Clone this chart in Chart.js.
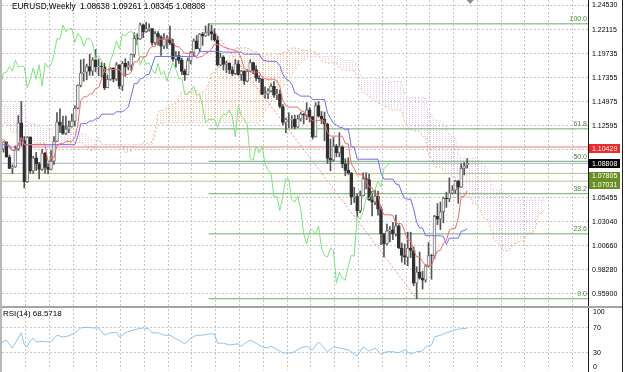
<!DOCTYPE html>
<html>
<head>
<meta charset="utf-8">
<script src="https://cdn.jsdelivr.net/npm/chart.js@4.4.1/dist/chart.umd.min.js"></script>
<style>
  html, body { margin: 0; padding: 0; background: #fff; }
  #wrap { position: relative; width: 625px; height: 372px; overflow: hidden; background: #fff; }
  canvas { position: absolute; left: 0; }
  #main { top: 0; }
  #rsi { top: 308px; }
  .edge { position: absolute; }
</style>
</head>
<body>
<div id="wrap">
  <canvas id="main" width="625" height="306"></canvas>
  <canvas id="rsi" width="625" height="64"></canvas>
  <div class="edge" style="left:0;top:306px;width:622px;height:2px;background:#a4a4a4"></div>
  <div class="edge" style="left:0;top:0;width:2px;height:372px;background:#b8b8b8"></div>
  <div class="edge" style="left:622px;top:0;width:1px;height:372px;background:#202020"></div>
</div>
<script>
// weekly EURUSD bars, index 0 = first visible week
const opens = [
1.1093,1.1025,1.1093,1.0944,1.0830,1.0845,1.1025,1.1283,1.1106,1.0698,
1.1141,1.0805,1.0936,1.0876,1.0821,1.0982,1.0841,1.0819,1.0901,1.1098,
1.1290,1.1256,1.1178,1.1220,1.1246,1.1300,1.1428,1.1655,1.1778,1.1786,
1.1842,1.1795,1.1905,1.1838,1.1845,1.1840,1.1631,1.1715,1.1826,1.1717,
1.1860,1.1647,1.1875,1.1835,1.1856,1.1962,1.2121,1.2113,1.2255,1.2187,
1.2216,1.2220,1.2080,1.2170,1.2136,1.2045,1.2118,1.2120,1.2075,1.1915,
1.1950,1.1903,1.1794,1.1762,1.1900,1.1983,1.2097,1.2020,1.2165,1.2146,
1.2180,1.2190,1.2167,1.2106,1.1858,1.1936,1.1864,1.1875,1.1810,1.1770,
1.1870,1.1760,1.1796,1.1696,1.1795,1.1880,1.1812,1.1726,1.1719,1.1566,
1.1570,1.1600,1.1645,1.1558,1.1567,1.1445,1.1287,1.1317,1.1317,1.1318,
1.1240,1.1322,1.1370,1.1360,1.1412,1.1345,1.1144,1.1455,1.1350,1.1320,
1.1270,1.0930,1.0912,1.1050,1.0985,1.1045,1.0875,1.0810,1.0785,1.0545,
1.0550,1.0410,1.0560,1.0730,1.0720,1.0518,1.0495,1.0555,1.0425,1.0180,
1.0080,1.0210,1.0220,1.0180,1.0260,1.0040,0.9965,0.9950,1.0040,1.0015,
0.9690,0.9800,0.9740,0.9720,0.9860,0.9965,0.9960,1.0355,1.0325,1.0400,
1.0535,1.0530,1.0585,1.0615,1.0705,1.0645,1.0830,1.08638];

const highs = [
1.1100,1.1096,1.1095,1.0964,1.0865,1.1054,1.1355,1.1496,1.1147,1.1147,
1.1145,1.0950,1.0990,1.0890,1.1019,1.0990,1.0875,1.1008,1.1146,1.1384,
1.1422,1.1350,1.1349,1.1303,1.1371,1.1452,1.1659,1.1909,1.1916,1.1866,
1.1966,1.1930,1.2011,1.1917,1.1882,1.1873,1.1755,1.1831,1.1832,1.1881,
1.1861,1.1891,1.1920,1.1893,1.1966,1.2177,1.2167,1.2273,1.2265,1.2280,
1.2265,1.2222,1.2190,1.2190,1.2150,1.2169,1.2150,1.2243,1.2114,1.1990,
1.1990,1.1925,1.1815,1.1927,1.1994,1.2117,1.2150,1.2170,1.2181,1.2245,
1.2266,1.2254,1.2218,1.2145,1.1975,1.1950,1.1895,1.1880,1.1840,1.1909,
1.1900,1.1805,1.1800,1.1810,1.1909,1.1885,1.1850,1.1751,1.1720,1.1640,
1.1624,1.1669,1.1692,1.1616,1.1610,1.1464,1.1330,1.1383,1.1355,1.1360,
1.1360,1.1386,1.1376,1.1482,1.1435,1.1346,1.1483,1.1495,1.1395,1.1390,
1.1280,1.1121,1.1137,1.1070,1.1185,1.1055,1.0926,1.0937,1.0790,1.0642,
1.0578,1.0607,1.0787,1.0786,1.0774,1.0602,1.0615,1.0605,1.0450,1.0185,
1.0278,1.0253,1.0294,1.0368,1.0272,1.0090,1.0080,1.0198,1.0197,1.0050,
0.9854,0.9999,0.9810,0.9875,1.0094,0.9976,1.0365,1.0481,1.0497,1.0545,
1.0595,1.0737,1.0659,1.0713,1.0713,1.0875,1.0887,1.09261];

const lows = [
1.1018,1.0992,1.0940,1.0827,1.0778,1.0840,1.1010,1.1055,1.0636,1.0690,
1.0780,1.0780,1.0810,1.0727,1.0810,1.0782,1.0775,1.0815,1.0870,1.1095,
1.1185,1.1168,1.1168,1.1185,1.1240,1.1250,1.1420,1.1640,1.1696,1.1710,
1.1755,1.1753,1.1789,1.1751,1.1737,1.1612,1.1630,1.1705,1.1689,1.1703,
1.1622,1.1603,1.1745,1.1810,1.1800,1.1935,1.2058,1.2110,1.2130,1.2180,
1.2192,1.2054,1.2060,1.2055,1.1952,1.2020,1.2023,1.2060,1.1893,1.1835,
1.1874,1.1762,1.1704,1.1760,1.1868,1.1950,1.2020,1.1986,1.2052,1.2140,
1.2150,1.2104,1.2093,1.1847,1.1848,1.1807,1.1782,1.1772,1.1752,1.1760,
1.1755,1.1705,1.1664,1.1690,1.1790,1.1770,1.1700,1.1683,1.1563,1.1529,
1.1522,1.1590,1.1535,1.1513,1.1432,1.1263,1.1186,1.1235,1.1228,1.1222,
1.1234,1.1300,1.1272,1.1314,1.1290,1.1121,1.1140,1.1340,1.1273,1.1106,
1.0880,1.0806,1.0901,1.0945,1.0945,1.0837,1.0757,1.0770,1.0471,1.0492,
1.0349,1.0390,1.0558,1.0627,1.0512,1.0359,1.0470,1.0365,1.0072,0.9952,
1.0070,1.0100,1.0123,1.0160,1.0033,0.9900,0.9877,0.9864,0.9945,0.9665,
0.9536,0.9730,0.9632,0.9700,0.9850,0.9730,0.9935,1.0272,1.0223,1.0290,
1.0443,1.0500,1.0575,1.0580,1.0483,1.0640,1.0766,1.08345];

const closes = [
1.1025,1.1093,1.0944,1.0830,1.0845,1.1025,1.1283,1.1106,1.0698,1.1141,
1.0805,1.0936,1.0876,1.0821,1.0982,1.0841,1.0819,1.0901,1.1098,1.1290,
1.1256,1.1178,1.1220,1.1246,1.1300,1.1428,1.1655,1.1778,1.1786,1.1842,
1.1795,1.1905,1.1838,1.1845,1.1840,1.1631,1.1715,1.1826,1.1717,1.1860,
1.1647,1.1875,1.1835,1.1856,1.1962,1.2121,1.2113,1.2255,1.2187,1.2216,
1.2220,1.2080,1.2170,1.2136,1.2045,1.2118,1.2120,1.2075,1.1915,1.1950,
1.1903,1.1794,1.1762,1.1900,1.1983,1.2097,1.2020,1.2165,1.2146,1.2180,
1.2190,1.2167,1.2106,1.1858,1.1936,1.1864,1.1875,1.1810,1.1770,1.1870,
1.1760,1.1796,1.1696,1.1795,1.1880,1.1812,1.1726,1.1719,1.1566,1.1570,
1.1600,1.1645,1.1558,1.1567,1.1445,1.1287,1.1317,1.1317,1.1318,1.1240,
1.1322,1.1370,1.1360,1.1412,1.1345,1.1144,1.1455,1.1350,1.1320,1.1270,
1.0930,1.0912,1.1050,1.0985,1.1045,1.0875,1.0810,1.0785,1.0545,1.0550,
1.0410,1.0560,1.0730,1.0720,1.0518,1.0495,1.0555,1.0425,1.0180,1.0080,
1.0210,1.0220,1.0180,1.0260,1.0040,0.9965,0.9950,1.0040,1.0015,0.9690,
0.9800,0.9740,0.9720,0.9860,0.9965,0.9960,1.0355,1.0325,1.0400,1.0535,
1.0530,1.0585,1.0615,1.0705,1.0645,1.0830,1.0855,1.08808];

// ichimoku lines (same bar index as the candles)
const tenkan = [
1.1110,1.1116,1.1090,1.1034,1.1009,1.1009,1.1067,1.1137,1.1066,1.1066,
1.1066,1.1066,1.1066,1.1066,1.1066,1.1066,1.0892,1.0937,1.0937,1.1056,
1.1075,1.1075,1.1099,1.1099,1.1099,1.1134,1.1265,1.1502,1.1542,1.1542,
1.1567,1.1576,1.1626,1.1631,1.1716,1.1812,1.1812,1.1812,1.1812,1.1812,
1.1812,1.1760,1.1762,1.1762,1.1785,1.1890,1.1890,1.1938,1.1938,1.1942,
1.2013,1.2040,1.2040,1.2108,1.2116,1.2116,1.2116,1.2116,1.2079,1.2039,
1.2039,1.2003,1.1974,1.1974,1.1974,1.1974,1.1927,1.1937,1.1943,1.1975,
1.1985,1.2013,1.2067,1.2057,1.2057,1.2037,1.2024,1.2019,1.2009,1.2003,
1.1985,1.1925,1.1820,1.1807,1.1787,1.1787,1.1787,1.1787,1.1736,1.1719,
1.1716,1.1716,1.1716,1.1699,1.1641,1.1507,1.1453,1.1439,1.1439,1.1439,
1.1439,1.1401,1.1398,1.1334,1.1334,1.1302,1.1302,1.1308,1.1308,1.1301,
1.1188,1.1151,1.1151,1.1151,1.1151,1.1151,1.1076,1.1074,1.0876,1.0828,
1.0767,1.0767,1.0767,1.0702,1.0643,1.0643,1.0568,1.0568,1.0430,1.0370,
1.0370,1.0369,1.0363,1.0284,1.0284,1.0279,1.0201,1.0116,1.0116,1.0017,
0.9952,0.9952,0.9904,0.9867,0.9867,0.9867,0.9951,1.0009,1.0017,1.0089,
1.0114,1.0219,1.0234,1.0234,1.0336,1.0549,1.0555,1.0608];

const kijun = [
1.1065,1.1065,1.1060,1.1060,1.1009,1.1009,1.1067,1.1137,1.1066,1.1066,
1.1066,1.1066,1.1066,1.1066,1.1066,1.1066,1.1066,1.1066,1.1066,1.1066,
1.1066,1.1066,1.1066,1.1066,1.1066,1.1066,1.1148,1.1273,1.1276,1.1276,
1.1301,1.1301,1.1324,1.1324,1.1369,1.1369,1.1369,1.1369,1.1369,1.1393,
1.1393,1.1393,1.1413,1.1441,1.1553,1.1673,1.1673,1.1721,1.1729,1.1760,
1.1765,1.1850,1.1942,1.1942,1.1942,1.1942,1.1942,1.1942,1.1942,1.1942,
1.1942,1.1942,1.1942,1.1942,1.1942,1.1942,1.1942,1.1992,1.1992,1.1992,
1.1992,1.1992,1.1992,1.1992,1.1992,1.1985,1.1985,1.1985,1.1985,1.1985,
1.1985,1.1985,1.1965,1.1965,1.1965,1.1965,1.1965,1.1965,1.1915,1.1898,
1.1894,1.1894,1.1894,1.1890,1.1849,1.1765,1.1720,1.1702,1.1666,1.1581,
1.1568,1.1548,1.1548,1.1548,1.1548,1.1515,1.1515,1.1515,1.1515,1.1515,
1.1383,1.1328,1.1279,1.1263,1.1238,1.1238,1.1213,1.1225,1.1044,1.1041,
1.0922,1.0922,1.0922,1.0922,1.0922,1.0922,1.0922,1.0922,1.0784,1.0724,
1.0724,1.0724,1.0724,1.0674,1.0671,1.0590,1.0531,1.0525,1.0525,1.0425,
1.0296,1.0237,1.0237,1.0163,1.0162,1.0162,1.0162,1.0162,1.0161,1.0155,
1.0076,1.0137,1.0137,1.0137,1.0137,1.0206,1.0212,1.0231];

// cloud edges as drawn (already shifted 26 bars ahead, index 0 = left edge)
const spanA = [
1.128,1.128,1.128,1.124,1.119,1.119,1.119,1.116,1.113,1.113,
1.113,1.110,1.108,1.108,1.108,1.108,1.106,1.106,1.106,1.106,
1.107,1.107,1.107,1.107,1.109,1.109,1.1088,1.1091,1.1075,1.1047,
1.1009,1.1009,1.1067,1.1137,1.1066,1.1066,1.1066,1.1066,1.1066,1.1066,
1.1066,1.1066,1.0979,1.1002,1.1002,1.1061,1.1071,1.1071,1.1083,1.1083,
1.1083,1.1100,1.1207,1.1388,1.1409,1.1409,1.1434,1.1439,1.1475,1.1478,
1.1543,1.1591,1.1591,1.1591,1.1591,1.1603,1.1603,1.1577,1.1588,1.1602,
1.1669,1.1782,1.1782,1.1830,1.1834,1.1851,1.1889,1.1945,1.1991,1.2025,
1.2029,1.2029,1.2029,1.2029,1.2011,1.1991,1.1991,1.1973,1.1958,1.1958,
1.1958,1.1958,1.1935,1.1965,1.1968,1.1984,1.1989,1.2003,1.2030,1.2025,
1.2025,1.2011,1.2005,1.2002,1.1997,1.1994,1.1985,1.1955,1.1893,1.1886,
1.1876,1.1876,1.1876,1.1876,1.1826,1.1809,1.1805,1.1805,1.1805,1.1795,
1.1745,1.1636,1.1587,1.1571,1.1553,1.1510,1.1504,1.1475,1.1473,1.1441,
1.1441,1.1409,1.1409,1.1412,1.1412,1.1408,1.1286,1.1240,1.1215,1.1207,
1.1195,1.1195,1.1145,1.1150,1.0960,1.0935,1.0845,1.0845,1.0845,1.0812,
1.0783,1.0783,1.0745,1.0745,1.0607,1.0547,1.0547,1.0547,1.0544,1.0479,
1.0478,1.0435,1.0366,1.0321,1.0321,1.0221,1.0124,1.0095,1.0071,1.0015,
1.0015,1.0015,1.0057,1.0086,1.0089,1.0122,1.0095,1.0178,1.0186,1.0186,
1.0237,1.0378,1.0384,1.0420];

const spanB = [
1.1461,1.1461,1.1461,1.1461,1.1461,1.1461,1.1461,1.1461,1.1461,1.1276,
1.1276,1.1276,1.1276,1.1252,1.1225,1.1225,1.1225,1.1225,1.1225,1.1225,
1.1225,1.1225,1.1225,1.1225,1.1225,1.1197,1.1197,1.1184,1.1170,1.1164,
1.1113,1.1113,1.1113,1.1137,1.1066,1.1066,1.1066,1.1066,1.1066,1.1066,
1.1066,1.1066,1.1066,1.1066,1.1066,1.1066,1.1066,1.1066,1.1066,1.1066,
1.1066,1.1066,1.1148,1.1273,1.1276,1.1276,1.1290,1.1290,1.1285,1.1285,
1.1285,1.1285,1.1285,1.1285,1.1285,1.1285,1.1285,1.1285,1.1285,1.1285,
1.1285,1.1285,1.1285,1.1285,1.1285,1.1285,1.1285,1.1285,1.1285,1.1285,
1.1285,1.1285,1.1285,1.1285,1.1285,1.1285,1.1285,1.1285,1.1340,1.1400,
1.1440,1.1480,1.1520,1.1550,1.1590,1.1630,1.1690,1.1724,1.1760,1.1800,
1.1850,1.1880,1.1900,1.1920,1.1942,1.1942,1.1942,1.1942,1.1942,1.1942,
1.1942,1.1942,1.1942,1.1942,1.1942,1.1905,1.1901,1.1901,1.1901,1.1897,
1.1856,1.1772,1.1733,1.1733,1.1733,1.1733,1.1733,1.1726,1.1726,1.1726,
1.1726,1.1694,1.1694,1.1694,1.1694,1.1694,1.1573,1.1536,1.1536,1.1536,
1.1536,1.1536,1.1536,1.1536,1.1369,1.1369,1.1308,1.1308,1.1302,1.1284,
1.1247,1.1162,1.1150,1.1129,1.0991,1.0931,1.0931,1.0931,1.0931,1.0931,
1.0931,1.0905,1.0881,1.0857,1.0808,1.0693,1.0614,1.0614,1.0614,1.0614,
1.0576,1.0573,1.0516,1.0516,1.0516,1.0516,1.0516,1.0516,1.0516,1.0516,
1.0516,1.0516,1.0516,1.0516];

// RSI(14) read at these bars
const rsiBars = [0,2,4,7,8,9,10,11,12,14,16,17,19,21,23,25,27,29,31,33,35,37,39,40,42,45,48,50,51,53,
55,57,59,60,62,64,66,68,70,72,73,75,77,80,81,82,84,86,88,90,91,95,98,101,103,105,107,108,110,112,
114,117,120,122,124,126,128,130,132,134,136,138,140,142,143,145,146,148,150,152,154,157];
const rsiValues = [44,49,36,61,41,38,48,52,46,47,46,46,57,54,56,61,69,70,69,69,57,61,62,54,61,66,69,67,61,61,
57,57,51,49,43,52,57,57,59,59,44,44,41,43,39,43,49,44,38,36,39,28,28,36,39,33,46,41,30,38,
36,33,23,38,31,36,26,30,30,28,33,26,30,31,38,41,54,57,61,64,67,68.57];

const priceTicks = [1.24530,1.22115,1.19735,1.17355,1.14975,1.12595,1.05455,1.03040,1.00660,0.98280,0.95900];
const hiddenTicks = [1.10215,1.07835];

const fibNames = ['100.0','61.8','50.0','38.2','23.6','0.0'];
const fibPrices = [1.2266,1.1223,1.0901,1.0579,1.0180,0.9536];
const fibFrom = 70, fibTo = 140;

const tagPrices = [1.10429,1.08808,1.07805,1.07031];
const tagColors = ['#f02a2a','#000000','#6b8e23','#6b8e23'];
const hlineColors = ['#f07a7a','#aab0c6','#bcc490','#bcc490'];

const title = 'EURUSD,Weekly  1.08638 1.09261 1.08345 1.08808';
const FONT = '"Liberation Sans", Arial, sans-serif';

const xMin = 0.5046, xMax = 197.645;

const mainCanvas = document.getElementById('main');
const mctx = mainCanvas.getContext('2d');

function hatch(color) {
  const c = document.createElement('canvas');
  c.width = 3; c.height = 2;
  const g = c.getContext('2d');
  g.fillStyle = color;
  g.fillRect(1, 0, 1, 1);
  return mctx.createPattern(c, 'repeat');
}

const bars = closes.map((c, i) => i);
const isUp = i => closes[i] >= opens[i];

function line(data, color, extra) {
  return Object.assign({
    type: 'line', data: data, borderColor: color, borderWidth: 1,
    pointRadius: 0, tension: 0, fill: false
  }, extra || {});
}

const datasets = [
  line(spanA.map((v, j) => ({x: j, y: v})), '#f6b987',
    {borderDash: [2, 2], order: 12,
     fill: {target: '+1', above: hatch('#f8c69c'), below: hatch('#e3cfe3')}}),
  line(spanB.map((v, j) => ({x: j, y: v})), '#e4d2e4', {borderDash: [2, 2], order: 11}),
  line([{x: fibFrom, y: fibPrices[0]}, {x: fibTo, y: fibPrices[5]}], '#f09090', {borderDash: [2, 2], order: 9})
];

fibPrices.forEach(p => {
  datasets.push(line([{x: fibFrom, y: p}, {x: xMax, y: p}], '#70aa70', {order: 9}));
});
tagPrices.forEach((p, k) => {
  datasets.push(line([{x: xMin, y: p}, {x: xMax, y: p}], hlineColors[k], {order: 9}));
});

datasets.push({
  type: 'bar', data: bars.map(i => ({x: i, y: [lows[i], highs[i]]})),
  backgroundColor: '#555555', barThickness: 1, grouped: false, order: 7
});
datasets.push({
  type: 'bar', data: bars.map(i => ({x: i, y: [opens[i], closes[i]]})),
  backgroundColor: c => isUp(c.dataIndex) ? '#f2f2f2' : '#303030',
  borderColor: c => isUp(c.dataIndex) ? '#7c7c7c' : '#303030',
  borderWidth: 1, borderSkipped: false, barThickness: 3, grouped: false, order: 6
});

datasets.push(line(closes.slice(26).map((v, k) => ({x: k, y: v})), '#7ce47c', {order: 3}));
datasets.push(line(kijun.map((v, i) => ({x: i, y: v})), '#6c6cf2', {order: 2}));
datasets.push(line(tenkan.map((v, i) => ({x: i, y: v})), '#f26868', {order: 1}));

function vGrid(chart) {
  const {ctx, chartArea: a, scales: {x}} = chart;
  ctx.beginPath();
  for (let k = 0; k < 25; k++) {
    const px = Math.round(x.getPixelForValue(8.25 + 8 * k)) + 0.5;
    if (px > a.right) break;
    ctx.moveTo(px, a.top); ctx.lineTo(px, a.bottom);
  }
  ctx.stroke();
}

const mainFrame = {
  id: 'mainFrame',
  beforeDatasetsDraw(chart) {
    const {ctx, chartArea: a, scales: {y}} = chart;
    ctx.save();
    ctx.strokeStyle = '#c6c6c6';
    ctx.lineWidth = 1;
    ctx.setLineDash([2, 2]);
    vGrid(chart);
    ctx.beginPath();
    priceTicks.concat(hiddenTicks).forEach(v => {
      const py = Math.round(y.getPixelForValue(v)) + 0.5;
      ctx.moveTo(a.left, py); ctx.lineTo(a.right, py);
    });
    ctx.stroke();
    ctx.restore();
  },
  afterDraw(chart) {
    const {ctx, scales: {x, y}} = chart;
    ctx.save();
    // axis edge
    ctx.fillStyle = '#1a1a1a';
    ctx.fillRect(588, 0, 1, chart.height);

    // price labels
    ctx.font = '7px ' + FONT;
    ctx.textBaseline = 'middle';
    ctx.textAlign = 'left';
    ctx.fillStyle = '#000';
    priceTicks.forEach(v => {
      ctx.fillText(v.toFixed(5), 592, y.getPixelForValue(v) + 0.5);
    });

    // coloured price tags
    const shift = [1.5, 0.3, 2.6, 3.1];
    tagPrices.forEach((p, k) => {
      const cy = y.getPixelForValue(p) + shift[k];
      ctx.fillStyle = tagColors[k];
      ctx.fillRect(589, Math.round(cy - 4.5), 31, 9);
      ctx.fillStyle = '#fff';
      ctx.fillText(p.toFixed(5), 592, cy + 0.5);
    });

    // fibo level names
    ctx.fillStyle = '#4c8a3c';
    ctx.textAlign = 'right';
    ctx.textBaseline = 'bottom';
    fibPrices.forEach((p, k) => {
      ctx.fillText(fibNames[k], 587, y.getPixelForValue(p) - 1);
    });

    // chart shift marker
    ctx.fillStyle = '#8c8c8c';
    const sx = x.getPixelForValue(158);
    ctx.beginPath();
    ctx.moveTo(sx - 3.5, 0); ctx.lineTo(sx + 3.5, 0); ctx.lineTo(sx, 4);
    ctx.closePath(); ctx.fill();

    // title
    ctx.fillStyle = '#000';
    ctx.textAlign = 'left';
    ctx.textBaseline = 'middle';
    ctx.font = '8.2px ' + FONT;
    ctx.fillText(title, 12, 7);
    ctx.restore();
  }
};

new Chart(mainCanvas, {
  type: 'bar',
  data: {datasets: datasets},
  options: {
    responsive: false,
    animation: false,
    devicePixelRatio: 1,
    events: [],
    layout: {padding: {left: 2, right: 37, top: 0, bottom: 0}},
    plugins: {legend: {display: false}, tooltip: {enabled: false}},
    scales: {
      x: {type: 'linear', display: false, min: xMin, max: xMax, offset: false},
      y: {type: 'linear', display: false, min: 0.94639, max: 1.25027}
    }
  },
  plugins: [mainFrame]
});

const rsiFrame = {
  id: 'rsiFrame',
  beforeDatasetsDraw(chart) {
    const {ctx, chartArea: a, scales: {y}} = chart;
    ctx.save();
    ctx.strokeStyle = '#c6c6c6';
    ctx.lineWidth = 1;
    ctx.setLineDash([2, 2]);
    vGrid(chart);
    ctx.beginPath();
    [70, 30].forEach(v => {
      const py = Math.round(y.getPixelForValue(v)) + 0.5;
      ctx.moveTo(a.left, py); ctx.lineTo(a.right, py);
    });
    ctx.stroke();
    ctx.restore();
  },
  afterDraw(chart) {
    const {ctx, scales: {y}} = chart;
    ctx.save();
    ctx.fillStyle = '#1a1a1a';
    ctx.fillRect(588, 0, 1, chart.height);
    ctx.font = '7px ' + FONT;
    ctx.fillStyle = '#000';
    ctx.textBaseline = 'middle';
    ctx.textAlign = 'left';
    [100, 70, 30, 0].forEach(v => {
      const py = Math.min(Math.max(y.getPixelForValue(v) + 1, 4), chart.height - 5);
      ctx.fillText(String(v), 593, py);
    });
    ctx.font = '8px ' + FONT;
    ctx.fillText('RSI(14) 68.5718', 3, 5.5);
    ctx.restore();
  }
};

new Chart(document.getElementById('rsi'), {
  type: 'line',
  data: {
    datasets: [line(rsiBars.map((b, k) => ({x: b, y: rsiValues[k]})), '#8cc4f2')]
  },
  options: {
    responsive: false,
    animation: false,
    devicePixelRatio: 1,
    events: [],
    layout: {padding: {left: 2, right: 37, top: 1, bottom: 2}},
    plugins: {legend: {display: false}, tooltip: {enabled: false}},
    scales: {
      x: {type: 'linear', display: false, min: xMin, max: xMax, offset: false},
      y: {type: 'linear', display: false, min: 0, max: 100}
    }
  },
  plugins: [rsiFrame]
});
</script>
</body>
</html>
